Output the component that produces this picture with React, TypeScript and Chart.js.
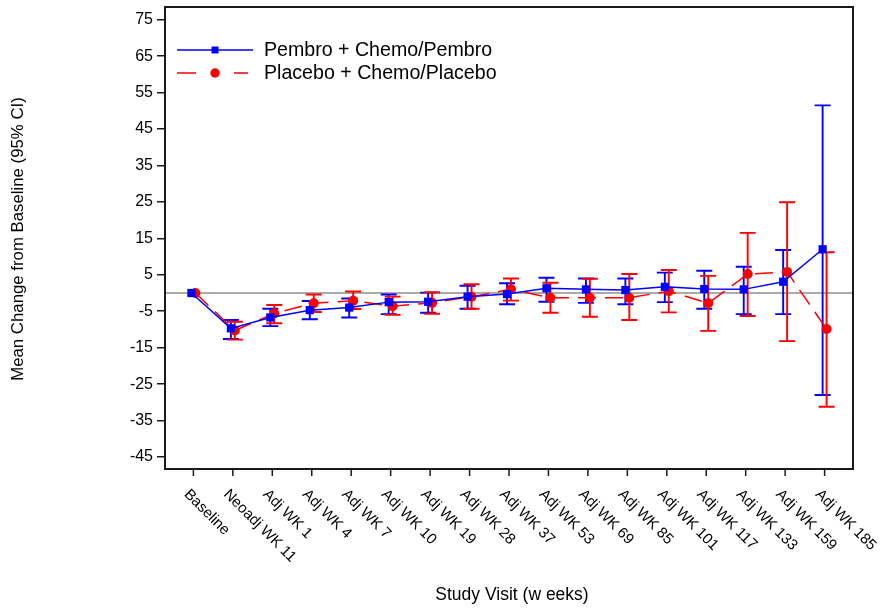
import React, { useEffect, useRef } from "react";
import { Chart, registerables } from "chart.js";

Chart.register(...registerables);

const categories = [
  "Baseline", "Neoadj WK 11", "Adj WK 1", "Adj WK 4", "Adj WK 7", "Adj WK 10",
  "Adj WK 19", "Adj WK 28", "Adj WK 37", "Adj WK 53", "Adj WK 69", "Adj WK 85",
  "Adj WK 101", "Adj WK 117", "Adj WK 133", "Adj WK 159", "Adj WK 185",
];

const pembroMean = [0, -9.7, -6.7, -4.7, -4.0, -2.5, -2.4, -1.0, -0.3, 1.3, 1.0, 0.8, 1.7, 1.1, 1.0, 3.1, 12.0];
const pembroLower = [0, -12.6, -9.1, -7.2, -6.7, -5.8, -5.4, -4.3, -3.1, -2.4, -2.7, -3.1, -2.5, -4.3, -5.8, -5.8, -28.0];
const pembroUpper = [0, -7.4, -4.3, -2.2, -1.5, -0.4, 0.1, 2.0, 2.7, 4.2, 4.0, 4.0, 5.6, 6.1, 7.2, 11.8, 51.5];

const placeboMean = [0, -10.3, -5.6, -2.8, -2.1, -3.6, -2.7, -1.0, 1.0, -1.3, -1.3, -1.3, 0.5, -2.8, 5.2, 5.8, -9.9];
const placeboLower = [0, -12.8, -8.3, -5.2, -4.4, -6.0, -5.7, -4.3, -2.1, -5.4, -6.5, -7.4, -5.3, -10.4, -6.3, -13.2, -31.2];
const placeboUpper = [0, -7.9, -3.3, -0.4, 0.4, -1.0, 0.2, 2.4, 4.0, 2.8, 3.9, 5.2, 6.3, 4.7, 16.5, 24.9, 11.2];

const yTickValues = [-45, -35, -25, -15, -5, 5, 15, 25, 35, 45, 55, 65, 75];

const seriesNames = ["Pembro + Chemo/Pembro", "Placebo + Chemo/Placebo"];
const xTitle = "Study Visit (w eeks)";
const yTitle = "Mean Change from Baseline (95% CI)";

const BLUE = "#0000FF";
const RED = "#FF0000";
const DARK = "#1a1a1a";
const FONT = "'Liberation Sans', Arial, Helvetica, sans-serif";
const OFFSET = 0.05;

const errorBars = [
  { lower: pembroLower, upper: pembroUpper, color: BLUE, offset: -OFFSET },
  { lower: placeboLower, upper: placeboUpper, color: RED, offset: OFFSET },
];

const customPlugin = {
  id: "custom",
  beforeDatasetsDraw(chart: any) {
    const { ctx, chartArea, scales } = chart;
    const xs = scales.x;
    const ys = scales.y;
    ctx.save();
    ctx.strokeStyle = "#8f8f8f";
    ctx.lineWidth = 1.5;
    ctx.beginPath();
    const y0 = ys.getPixelForValue(0);
    ctx.moveTo(chartArea.left, y0);
    ctx.lineTo(chartArea.right, y0);
    ctx.stroke();
    errorBars.forEach((eb) => {
      ctx.strokeStyle = eb.color;
      ctx.lineWidth = 1.9;
      eb.lower.forEach((lo, i) => {
        const hi = eb.upper[i];
        if (lo === hi) return;
        const px = xs.getPixelForValue(i + eb.offset);
        const pl = ys.getPixelForValue(lo);
        const ph = ys.getPixelForValue(hi);
        ctx.beginPath();
        ctx.moveTo(px, pl);
        ctx.lineTo(px, ph);
        ctx.moveTo(px - 8, pl);
        ctx.lineTo(px + 8, pl);
        ctx.moveTo(px - 8, ph);
        ctx.lineTo(px + 8, ph);
        ctx.stroke();
      });
    });
    ctx.restore();
  },
  afterDraw(chart: any) {
    const { ctx, chartArea, scales } = chart;
    const xs = scales.x;
    ctx.save();
    ctx.strokeStyle = DARK;
    ctx.lineWidth = 2;
    ctx.strokeRect(chartArea.left, chartArea.top, chartArea.right - chartArea.left, chartArea.bottom - chartArea.top);
    ctx.lineWidth = 1.5;
    ctx.fillStyle = "#000";
    ctx.font = `15px ${FONT}`;
    categories.forEach((label, i) => {
      const px = xs.getPixelForValue(i);
      ctx.beginPath();
      ctx.moveTo(px, chartArea.bottom);
      ctx.lineTo(px, chartArea.bottom + 7);
      ctx.stroke();
      ctx.save();
      ctx.translate(px - 7, chartArea.bottom + 23);
      ctx.rotate(Math.PI / 4);
      ctx.textAlign = "left";
      ctx.textBaseline = "middle";
      ctx.fillText(label, 0, 0);
      ctx.restore();
    });
    ctx.textAlign = "center";
    ctx.textBaseline = "middle";
    ctx.font = `17.5px ${FONT}`;
    ctx.fillText(xTitle, 512, 595);
    ctx.save();
    ctx.font = `16.8px ${FONT}`;
    ctx.translate(18, 239);
    ctx.rotate(-Math.PI / 2);
    ctx.fillText(yTitle, 0, 0);
    ctx.restore();
    // legend
    const lx0 = chartArea.left + 12;
    const lx1 = lx0 + 76;
    const lmid = (lx0 + lx1) / 2;
    const ly1 = 50;
    const ly2 = 73;
    ctx.strokeStyle = BLUE;
    ctx.lineWidth = 1.5;
    ctx.beginPath();
    ctx.moveTo(lx0, ly1);
    ctx.lineTo(lx1, ly1);
    ctx.stroke();
    ctx.fillStyle = BLUE;
    ctx.fillRect(lmid - 3.5, ly1 - 3.5, 7, 7);
    ctx.strokeStyle = RED;
    ctx.beginPath();
    ctx.moveTo(lx0, ly2);
    ctx.lineTo(lx0 + 19, ly2);
    ctx.moveTo(lx1 - 19, ly2);
    ctx.lineTo(lx1 - 5, ly2);
    ctx.stroke();
    ctx.fillStyle = RED;
    ctx.beginPath();
    ctx.arc(lmid, ly2, 4.7, 0, Math.PI * 2);
    ctx.fill();
    ctx.fillStyle = "#000";
    ctx.font = `19.6px ${FONT}`;
    ctx.textAlign = "left";
    ctx.textBaseline = "middle";
    ctx.fillText(seriesNames[0], lx1 + 11, ly1 + 1);
    ctx.fillText(seriesNames[1], lx1 + 11, ly2 + 1);
    ctx.restore();
  },
};

export default function App() {
  const canvasRef = useRef<HTMLCanvasElement | null>(null);

  useEffect(() => {
    if (!canvasRef.current) return;
    const chart = new Chart(canvasRef.current, {
      type: "line",
      data: {
        datasets: [
          {
            label: seriesNames[0],
            data: pembroMean.map((v, i) => ({ x: i - OFFSET, y: v })),
            borderColor: BLUE,
            backgroundColor: BLUE,
            borderWidth: 1.5,
            pointStyle: "rect",
            pointRadius: 5.8,
            pointBorderWidth: 0,
            tension: 0,
          },
          {
            label: seriesNames[1],
            data: placeboMean.map((v, i) => ({ x: i + OFFSET, y: v })),
            borderColor: RED,
            backgroundColor: RED,
            borderWidth: 1.5,
            borderDash: [18, 9],
            pointStyle: "circle",
            pointRadius: 5,
            pointBorderWidth: 0,
            tension: 0,
          },
        ],
      },
      options: {
        responsive: false,
        animation: false,
        layout: { padding: { left: 0, right: 32, top: 7, bottom: 140 } },
        plugins: { legend: { display: false }, tooltip: { enabled: false } },
        scales: {
          x: {
            type: "linear",
            display: false,
            min: -0.72,
            max: 16.72,
          },
          y: {
            min: -48.3,
            max: 78.5,
            afterBuildTicks: (scale: any) => {
              scale.ticks = yTickValues.map((v) => ({ value: v }));
            },
            afterFit: (scale: any) => {
              scale.width = 165;
              scale.paddingTop = 0;
              scale.paddingBottom = 0;
            },
            border: { display: false },
            grid: {
              drawOnChartArea: false,
              drawTicks: true,
              tickLength: 8,
              color: DARK,
              lineWidth: 1.5,
            },
            ticks: {
              padding: 4,
              color: "#000",
              font: { family: FONT, size: 16 },
            },
          },
        },
      },
      plugins: [customPlugin],
    });
    return () => chart.destroy();
  }, []);

  return (
    <div style={{ position: "fixed", left: 0, top: 0, width: 885, height: 609, background: "#fff" }}>
      <canvas ref={canvasRef} width={885} height={609} style={{ display: "block" }} />
    </div>
  );
}
